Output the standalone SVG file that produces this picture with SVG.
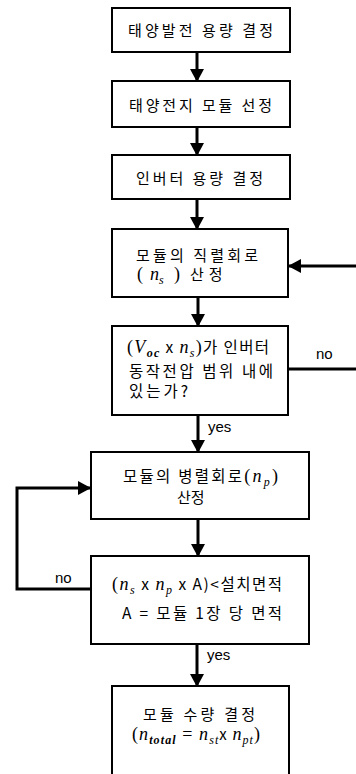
<svg xmlns="http://www.w3.org/2000/svg" width="356" height="774" viewBox="0 0 356 774">
<style>
.box{fill:#fff;stroke:#000;stroke-width:2}
.k{font-family:"Noto Sans CJK KR","Noto Sans",sans-serif;font-size:15px;fill:#000}
.k2{font-size:15.5px}
.m{font-family:"Liberation Serif",serif;font-style:italic;font-size:18px}
.p{font-family:"Liberation Serif",serif;font-size:18px}
.s{font-size:12px}
.b{font-weight:bold}
.lbl{font-family:"Liberation Sans",Arial,sans-serif;font-size:15px;fill:#000}
.c{fill:none;stroke:#000;stroke-width:3}
</style>
<defs>
<marker id="ah" markerUnits="userSpaceOnUse" markerWidth="14" markerHeight="14" refX="12" refY="7" orient="auto">
<path d="M0,0 L13,7 L0,14 Z" fill="#000"/>
</marker>
</defs>
<rect width="356" height="774" fill="#fff"/>
<g id="connectors">
<line class="c" x1="197" y1="52" x2="197" y2="81" marker-end="url(#ah)"/>
<line class="c" x1="197" y1="127" x2="197" y2="155" marker-end="url(#ah)"/>
<line class="c" x1="197" y1="199" x2="197" y2="229" marker-end="url(#ah)"/>
<line class="c" x1="198" y1="297" x2="198" y2="326" marker-end="url(#ah)"/>
<line class="c" x1="198" y1="415" x2="198" y2="452" marker-end="url(#ah)"/>
<line class="c" x1="198" y1="519" x2="198" y2="556" marker-end="url(#ah)"/>
<line class="c" x1="197" y1="644" x2="197" y2="686" marker-end="url(#ah)"/>
<line class="c" x1="358" y1="266" x2="289" y2="266" marker-end="url(#ah)"/>
<line class="c" x1="288" y1="369" x2="358" y2="369"/>
<path class="c" d="M91,589 H17 V488 H90" marker-end="url(#ah)"/>
<text class="lbl" x="208" y="432">yes</text>
<text class="lbl" x="207" y="660">yes</text>
<text class="lbl" x="316" y="359">no</text>
<text class="lbl" x="55" y="583">no</text>
</g>
<g id="n1">
<rect class="box" x="112" y="8" width="178" height="44"/>
<text class="k" x="128" y="36" textLength="145" lengthAdjust="spacing">태양발전 용량 결정</text>
</g>
<g id="n2">
<rect class="box" x="112" y="81" width="178" height="46"/>
<text class="k" x="129" y="111" textLength="143" lengthAdjust="spacing">태양전지 모듈 선정</text>
</g>
<g id="n3">
<rect class="box" x="112" y="155" width="178" height="44"/>
<text class="k" x="136" y="184" textLength="127" lengthAdjust="spacing">인버터 용량 결정</text>
</g>
<g id="n4">
<rect class="box" x="112" y="229" width="176" height="68"/>
<text class="k" x="136" y="261" textLength="122" lengthAdjust="spacing">모듈의 직렬회로</text>
<text class="k" x="137" y="280"><tspan class="p">(</tspan><tspan class="m" x="150">n</tspan><tspan class="m s" dy="4">s</tspan><tspan class="p" x="174" dy="-4">)</tspan><tspan x="190" style="letter-spacing:5px">산정</tspan></text>
</g>
<g id="n5">
<rect class="box" x="112" y="326" width="176" height="89"/>
<text class="k k2" x="127" y="353" textLength="142" lengthAdjust="spacing"><tspan class="p">(</tspan><tspan class="m">V</tspan><tspan class="m s b" dy="4">oc</tspan><tspan dy="-4"> x </tspan><tspan class="m">n</tspan><tspan class="m s" dy="4">s</tspan><tspan class="p" dy="-4">)</tspan>가 인버터</text>
<text class="k k2" x="129" y="377" textLength="144" lengthAdjust="spacing">동작전압 범위 내에</text>
<text class="k k2" x="129" y="397" textLength="59" lengthAdjust="spacing">있는가?</text>
</g>
<g id="n6">
<rect class="box" x="91" y="452" width="218" height="67"/>
<text class="k k2" x="123" y="482" textLength="155" lengthAdjust="spacing">모듈의 병렬회로<tspan class="p">(</tspan><tspan class="m">n</tspan><tspan class="m s" dy="4">p</tspan><tspan class="p" dy="-4">)</tspan></text>
<text class="k" x="177" y="503">산정</text>
</g>
<g id="n7">
<rect class="box" x="91" y="556" width="218" height="88"/>
<text class="k k2" x="112" y="590" textLength="170" lengthAdjust="spacing"><tspan class="p">(</tspan><tspan class="m">n</tspan><tspan class="m s" dy="4">s</tspan><tspan dy="-4"> x </tspan><tspan class="m">n</tspan><tspan class="m s" dy="4">p</tspan><tspan dy="-4"> x A)&lt;설치면적</tspan></text>
<text class="k k2" x="122" y="619" textLength="160" lengthAdjust="spacing">A = 모듈 1장 당 면적</text>
</g>
<g id="n8">
<rect class="box" x="112" y="686" width="177" height="100"/>
<text class="k" x="143" y="720" textLength="112" lengthAdjust="spacing">모듈 수량 결정</text>
<text class="k" x="132" y="740" textLength="128" lengthAdjust="spacing"><tspan class="p">(</tspan><tspan class="m">n</tspan><tspan class="m s b" dy="4">total</tspan><tspan class="p" dy="-4"> = </tspan><tspan class="m">n</tspan><tspan class="m s" dy="4">st</tspan><tspan dy="-4">x </tspan><tspan class="m">n</tspan><tspan class="m s" dy="4">pt</tspan><tspan class="p" dy="-4">)</tspan></text>
</g>
</svg>
